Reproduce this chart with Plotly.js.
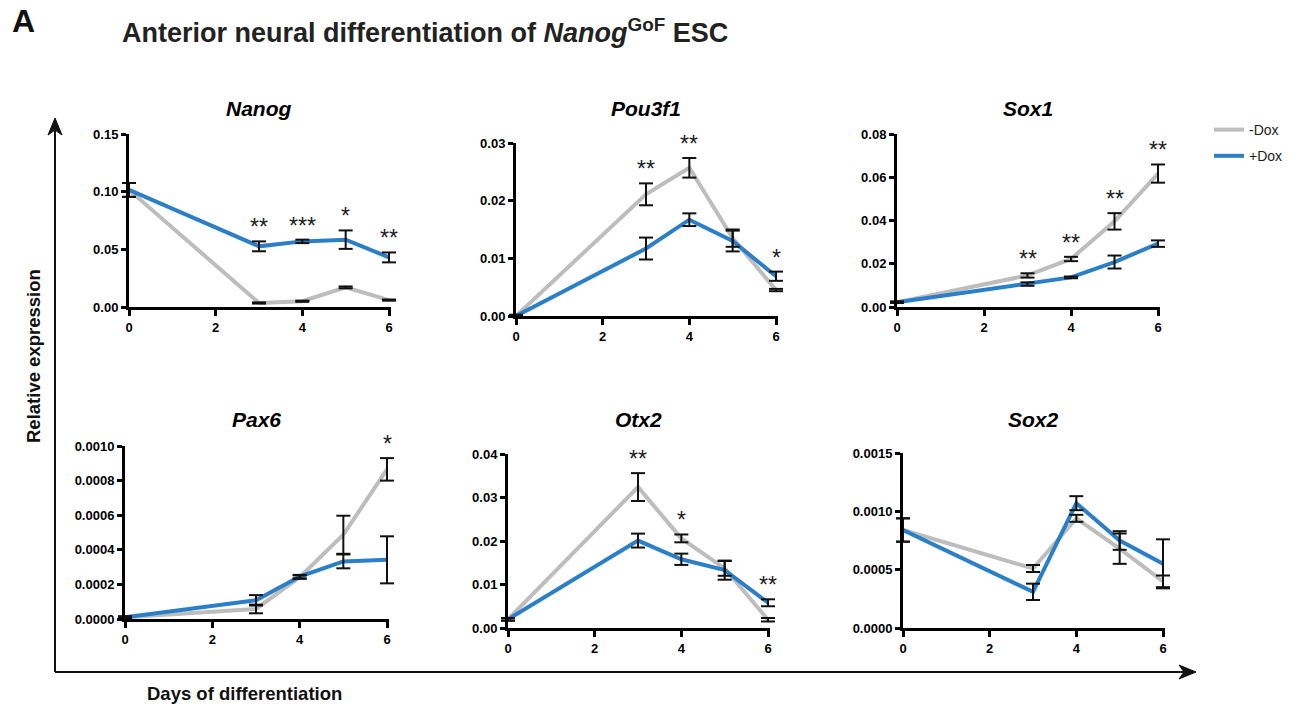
<!DOCTYPE html>
<html><head><meta charset="utf-8">
<script src="https://cdn.plot.ly/plotly-3.0.1.min.js"></script>
<style>html,body{margin:0;padding:0;background:#fff}#chart{width:1297px;height:706px}</style>
</head><body><div id="chart"></div>
<script>
// ---------- data ----------
const days = [0, 3, 4, 5, 6];
const xTickVals = [0, 2, 4, 6];
const seriesNames = ['-Dox', '+Dox'];
const geneNames = ['Nanog', 'Pou3f1', 'Sox1', 'Pax6', 'Otx2', 'Sox2'];

const nanogMinus    = [0.1015, 0.0035, 0.005, 0.017, 0.006];
const nanogMinusErr = [0.006, 0.0005, 0.0005, 0.0008, 0.0005];
const nanogPlus     = [0.1015, 0.0526, 0.0569, 0.0584, 0.043];
const nanogPlusErr  = [0.006, 0.0043, 0.0015, 0.008, 0.0043];
const nanogSig      = ['', '**', '***', '*', '**'];
const nanogTicks    = [0, 0.05, 0.10, 0.15];

const pou3f1Minus    = [0.0, 0.0211, 0.0257, 0.0135, 0.0045];
const pou3f1MinusErr = [0.0002, 0.0019, 0.0017, 0.0015, 0.0002];
const pou3f1Plus     = [0.0, 0.0117, 0.0167, 0.013, 0.0069];
const pou3f1PlusErr  = [0.0002, 0.0019, 0.0011, 0.0018, 0.0008];
const pou3f1Sig      = ['', '**', '**', '', '*'];
const pou3f1Ticks    = [0, 0.01, 0.02, 0.03];

const sox1Minus    = [0.0022, 0.0146, 0.0222, 0.0396, 0.0617];
const sox1MinusErr = [0.0003, 0.001, 0.001, 0.0038, 0.0042];
const sox1Plus     = [0.0022, 0.0106, 0.0137, 0.0208, 0.0293];
const sox1PlusErr  = [0.0003, 0.0008, 0.0004, 0.003, 0.0015];
const sox1Sig      = ['', '**', '**', '**', '**'];
const sox1Ticks    = [0, 0.02, 0.04, 0.06, 0.08];

const pax6Minus    = [0.00001, 0.000058, 0.000242, 0.000487, 0.000865];
const pax6MinusErr = [0.000005, 0.000025, 0.00001, 0.00011, 0.000065];
const pax6Plus     = [0.00001, 0.000108, 0.000245, 0.000333, 0.000342];
const pax6PlusErr  = [0.000005, 0.00003, 0.00001, 0.00004, 0.000136];
const pax6Sig      = ['', '', '', '', '*'];
const pax6Ticks    = [0, 0.0002, 0.0004, 0.0006, 0.0008, 0.0010];

const otx2Minus    = [0.002, 0.0324, 0.0206, 0.0137, 0.0019];
const otx2MinusErr = [0.0003, 0.0032, 0.0009, 0.0017, 0.0004];
const otx2Plus     = [0.002, 0.0201, 0.0158, 0.0133, 0.0058];
const otx2PlusErr  = [0.0003, 0.0016, 0.0013, 0.0022, 0.0008];
const otx2Sig      = ['', '**', '*', '', '**'];
const otx2Ticks    = [0, 0.01, 0.02, 0.03, 0.04];

const sox2Minus    = [0.00084, 0.00051, 0.00094, 0.00068, 0.0004];
const sox2MinusErr = [0.0001, 0.00003, 0.00003, 0.00013, 0.00005];
const sox2Plus     = [0.00084, 0.00031, 0.00107, 0.00075, 0.00055];
const sox2PlusErr  = [0.0001, 0.00007, 0.00006, 0.00008, 0.00021];
const sox2Sig      = ['', '', '', '', ''];
const sox2Ticks    = [0, 0.0005, 0.0010, 0.0015];

// ---------- build ----------
const W = 1297, H = 706;
const FONT = 'Liberation Sans, Arial, sans-serif';
const GRAY = '#bdbdbd', BLUE = '#2a7fc8';

const panels = [
  {minus: nanogMinus, minusErr: nanogMinusErr, plus: nanogPlus, plusErr: nanogPlusErr, sig: nanogSig, ticks: nanogTicks, fmt: '.2f', px: [129, 389], py: [134, 307]},
  {minus: pou3f1Minus, minusErr: pou3f1MinusErr, plus: pou3f1Plus, plusErr: pou3f1PlusErr, sig: pou3f1Sig, ticks: pou3f1Ticks, fmt: '.2f', px: [516, 776], py: [143, 316]},
  {minus: sox1Minus, minusErr: sox1MinusErr, plus: sox1Plus, plusErr: sox1PlusErr, sig: sox1Sig, ticks: sox1Ticks, fmt: '.2f', px: [897, 1158], py: [134, 307]},
  {minus: pax6Minus, minusErr: pax6MinusErr, plus: pax6Plus, plusErr: pax6PlusErr, sig: pax6Sig, ticks: pax6Ticks, fmt: '.4f', px: [125, 387], py: [446, 619]},
  {minus: otx2Minus, minusErr: otx2MinusErr, plus: otx2Plus, plusErr: otx2PlusErr, sig: otx2Sig, ticks: otx2Ticks, fmt: '.2f', px: [508, 768], py: [454, 628]},
  {minus: sox2Minus, minusErr: sox2MinusErr, plus: sox2Plus, plusErr: sox2PlusErr, sig: sox2Sig, ticks: sox2Ticks, fmt: '.4f', px: [903, 1163], py: [453, 628]}
];

const px2x = v => v / W;
const px2y = v => 1 - v / H;

const lineTraces = [];
const barTraces = [];
const annotations = [];
const shapes = [];
const layout = {
  width: W, height: H,
  margin: {l: 0, r: 0, t: 0, b: 0},
  paper_bgcolor: '#fff', plot_bgcolor: 'rgba(0,0,0,0)',
  font: {family: FONT, color: '#000'},
  showlegend: true,
  legend: {x: px2x(1209), y: px2y(114), xanchor: 'left', yanchor: 'top',
           font: {family: FONT, size: 14, color: '#222'}, bgcolor: 'rgba(0,0,0,0)',
           itemwidth: 30, tracegroupgap: 5},
  annotations: annotations,
  shapes: shapes
};

const tickFont = {family: FONT, size: 13, weight: 'bold', color: '#000'};
const XMAX = 6.04;

panels.forEach((p, i) => {
  const n = i + 1;
  const xa = n === 1 ? 'x' : 'x' + n;
  const ya = n === 1 ? 'y' : 'y' + n;
  const xKey = n === 1 ? 'xaxis' : 'xaxis' + n;
  const yKey = n === 1 ? 'yaxis' : 'yaxis' + n;
  const top = p.ticks[p.ticks.length - 1];
  const pxRight = p.px[1] + (XMAX - 6) * (p.px[1] - p.px[0]) / 6;
  layout[xKey] = {
    domain: [px2x(p.px[0]), px2x(pxRight)], anchor: ya, range: [0, XMAX],
    tickvals: xTickVals, ticktext: xTickVals.map(String),
    showline: true, linewidth: 3, linecolor: '#000', ticks: 'outside', ticklen: 6, tickwidth: 3, tickcolor: '#000',
    showgrid: false, zeroline: false, tickfont: tickFont, fixedrange: true
  };
  layout[yKey] = {
    domain: [px2y(p.py[1]), px2y(p.py[0])], anchor: xa, range: [0, top],
    tickvals: p.ticks, tickformat: p.fmt,
    showline: true, linewidth: 3, linecolor: '#000', ticks: 'outside', ticklen: 5, tickwidth: 3, tickcolor: '#000',
    showgrid: false, zeroline: false, tickfont: tickFont, fixedrange: true
  };
  const series = [
    {mean: p.minus, err: p.minusErr, color: GRAY, name: seriesNames[0], grp: 'minus'},
    {mean: p.plus, err: p.plusErr, color: BLUE, name: seriesNames[1], grp: 'plus'}
  ];
  series.forEach(s => {
    lineTraces.push({
      x: days, y: s.mean, xaxis: xa, yaxis: ya, type: 'scatter', mode: 'lines',
      name: s.name, legendgroup: s.grp, showlegend: i === 0,
      line: {color: s.color, width: 4}, hoverinfo: 'skip'
    });
    // error bars: caps as markers (not clipped at the axes), stems as error bars
    barTraces.push({
      x: days.concat(days),
      y: s.mean.map((m, k) => m + s.err[k]).concat(s.mean.map((m, k) => m - s.err[k])),
      xaxis: xa, yaxis: ya, type: 'scatter', mode: 'markers', showlegend: false, cliponaxis: false,
      marker: {symbol: 'line-ew', size: 10, color: '#111', line: {color: '#111', width: 2}},
      error_y: {type: 'data', symmetric: false, array: days.map(() => 0).concat(days.map(() => 0)),
                arrayminus: s.err.map(e => 2 * e).concat(days.map(() => 0)),
                color: '#111', thickness: 2, width: 0},
      hoverinfo: 'skip'
    });
  });
  // panel title
  annotations.push({
    xref: 'paper', yref: 'paper', x: px2x((p.px[0] + p.px[1]) / 2), y: px2y(i < 3 ? 108 : 420),
    xanchor: 'center', yanchor: 'middle', showarrow: false,
    text: '<b><i>' + geneNames[i] + '</i></b>', font: {family: FONT, size: 21, color: '#000'}
  });
  // significance stars
  p.sig.forEach((s, k) => {
    if (!s) return;
    const topVal = Math.max(p.minus[k] + p.minusErr[k], p.plus[k] + p.plusErr[k]);
    annotations.push({
      xref: xa, yref: ya, x: days[k], y: topVal, xanchor: 'center', yanchor: 'bottom',
      showarrow: false, text: s, font: {family: FONT, size: 23, color: '#222'}, yshift: -1
    });
  });
});

// figure-level texts
annotations.push({xref: 'paper', yref: 'paper', x: px2x(10), y: px2y(21), xanchor: 'left', yanchor: 'middle',
  showarrow: false, text: '<b>A</b>', font: {family: FONT, size: 32, color: '#111'}});
annotations.push({xref: 'paper', yref: 'paper', x: px2x(120), y: px2y(31), xanchor: 'left', yanchor: 'middle',
  showarrow: false, text: '<b>Anterior neural differentiation of <i>Nanog</i><sup>GoF</sup> ESC</b>',
  font: {family: FONT, size: 27, color: '#222'}});
annotations.push({xref: 'paper', yref: 'paper', x: px2x(33), y: px2y(356), xanchor: 'center', yanchor: 'middle',
  showarrow: false, textangle: -90, text: '<b>Relative expression</b>', font: {family: FONT, size: 18.5, color: '#111'}});
annotations.push({xref: 'paper', yref: 'paper', x: px2x(244), y: px2y(693), xanchor: 'center', yanchor: 'middle',
  showarrow: false, text: '<b>Days of differentiation</b>', font: {family: FONT, size: 18.5, color: '#111'}});

// big axis arrows (decoration)
const ox = 55, oy = 672, topY = 118, rightX = 1196;
shapes.push({type: 'line', xref: 'paper', yref: 'paper', x0: px2x(ox), y0: px2y(oy), x1: px2x(ox), y1: px2y(topY + 10), line: {color: '#111', width: 2}});
shapes.push({type: 'line', xref: 'paper', yref: 'paper', x0: px2x(ox), y0: px2y(oy), x1: px2x(rightX - 10), y1: px2y(oy), line: {color: '#111', width: 2}});
const P = (x, y) => px2x(x) + ',' + px2y(y);
shapes.push({type: 'path', xref: 'paper', yref: 'paper', fillcolor: '#111', line: {color: '#111', width: 1},
  path: 'M' + P(ox, topY) + ' L' + P(ox - 7, topY + 17) + ' L' + P(ox, topY + 12) + ' L' + P(ox + 7, topY + 17) + ' Z'});
shapes.push({type: 'path', xref: 'paper', yref: 'paper', fillcolor: '#111', line: {color: '#111', width: 1},
  path: 'M' + P(rightX, oy) + ' L' + P(rightX - 17, oy - 7) + ' L' + P(rightX - 12, oy) + ' L' + P(rightX - 17, oy + 7) + ' Z'});

Plotly.newPlot('chart', lineTraces.concat(barTraces), layout, {displayModeBar: false, staticPlot: true});
</script>
</body></html>
